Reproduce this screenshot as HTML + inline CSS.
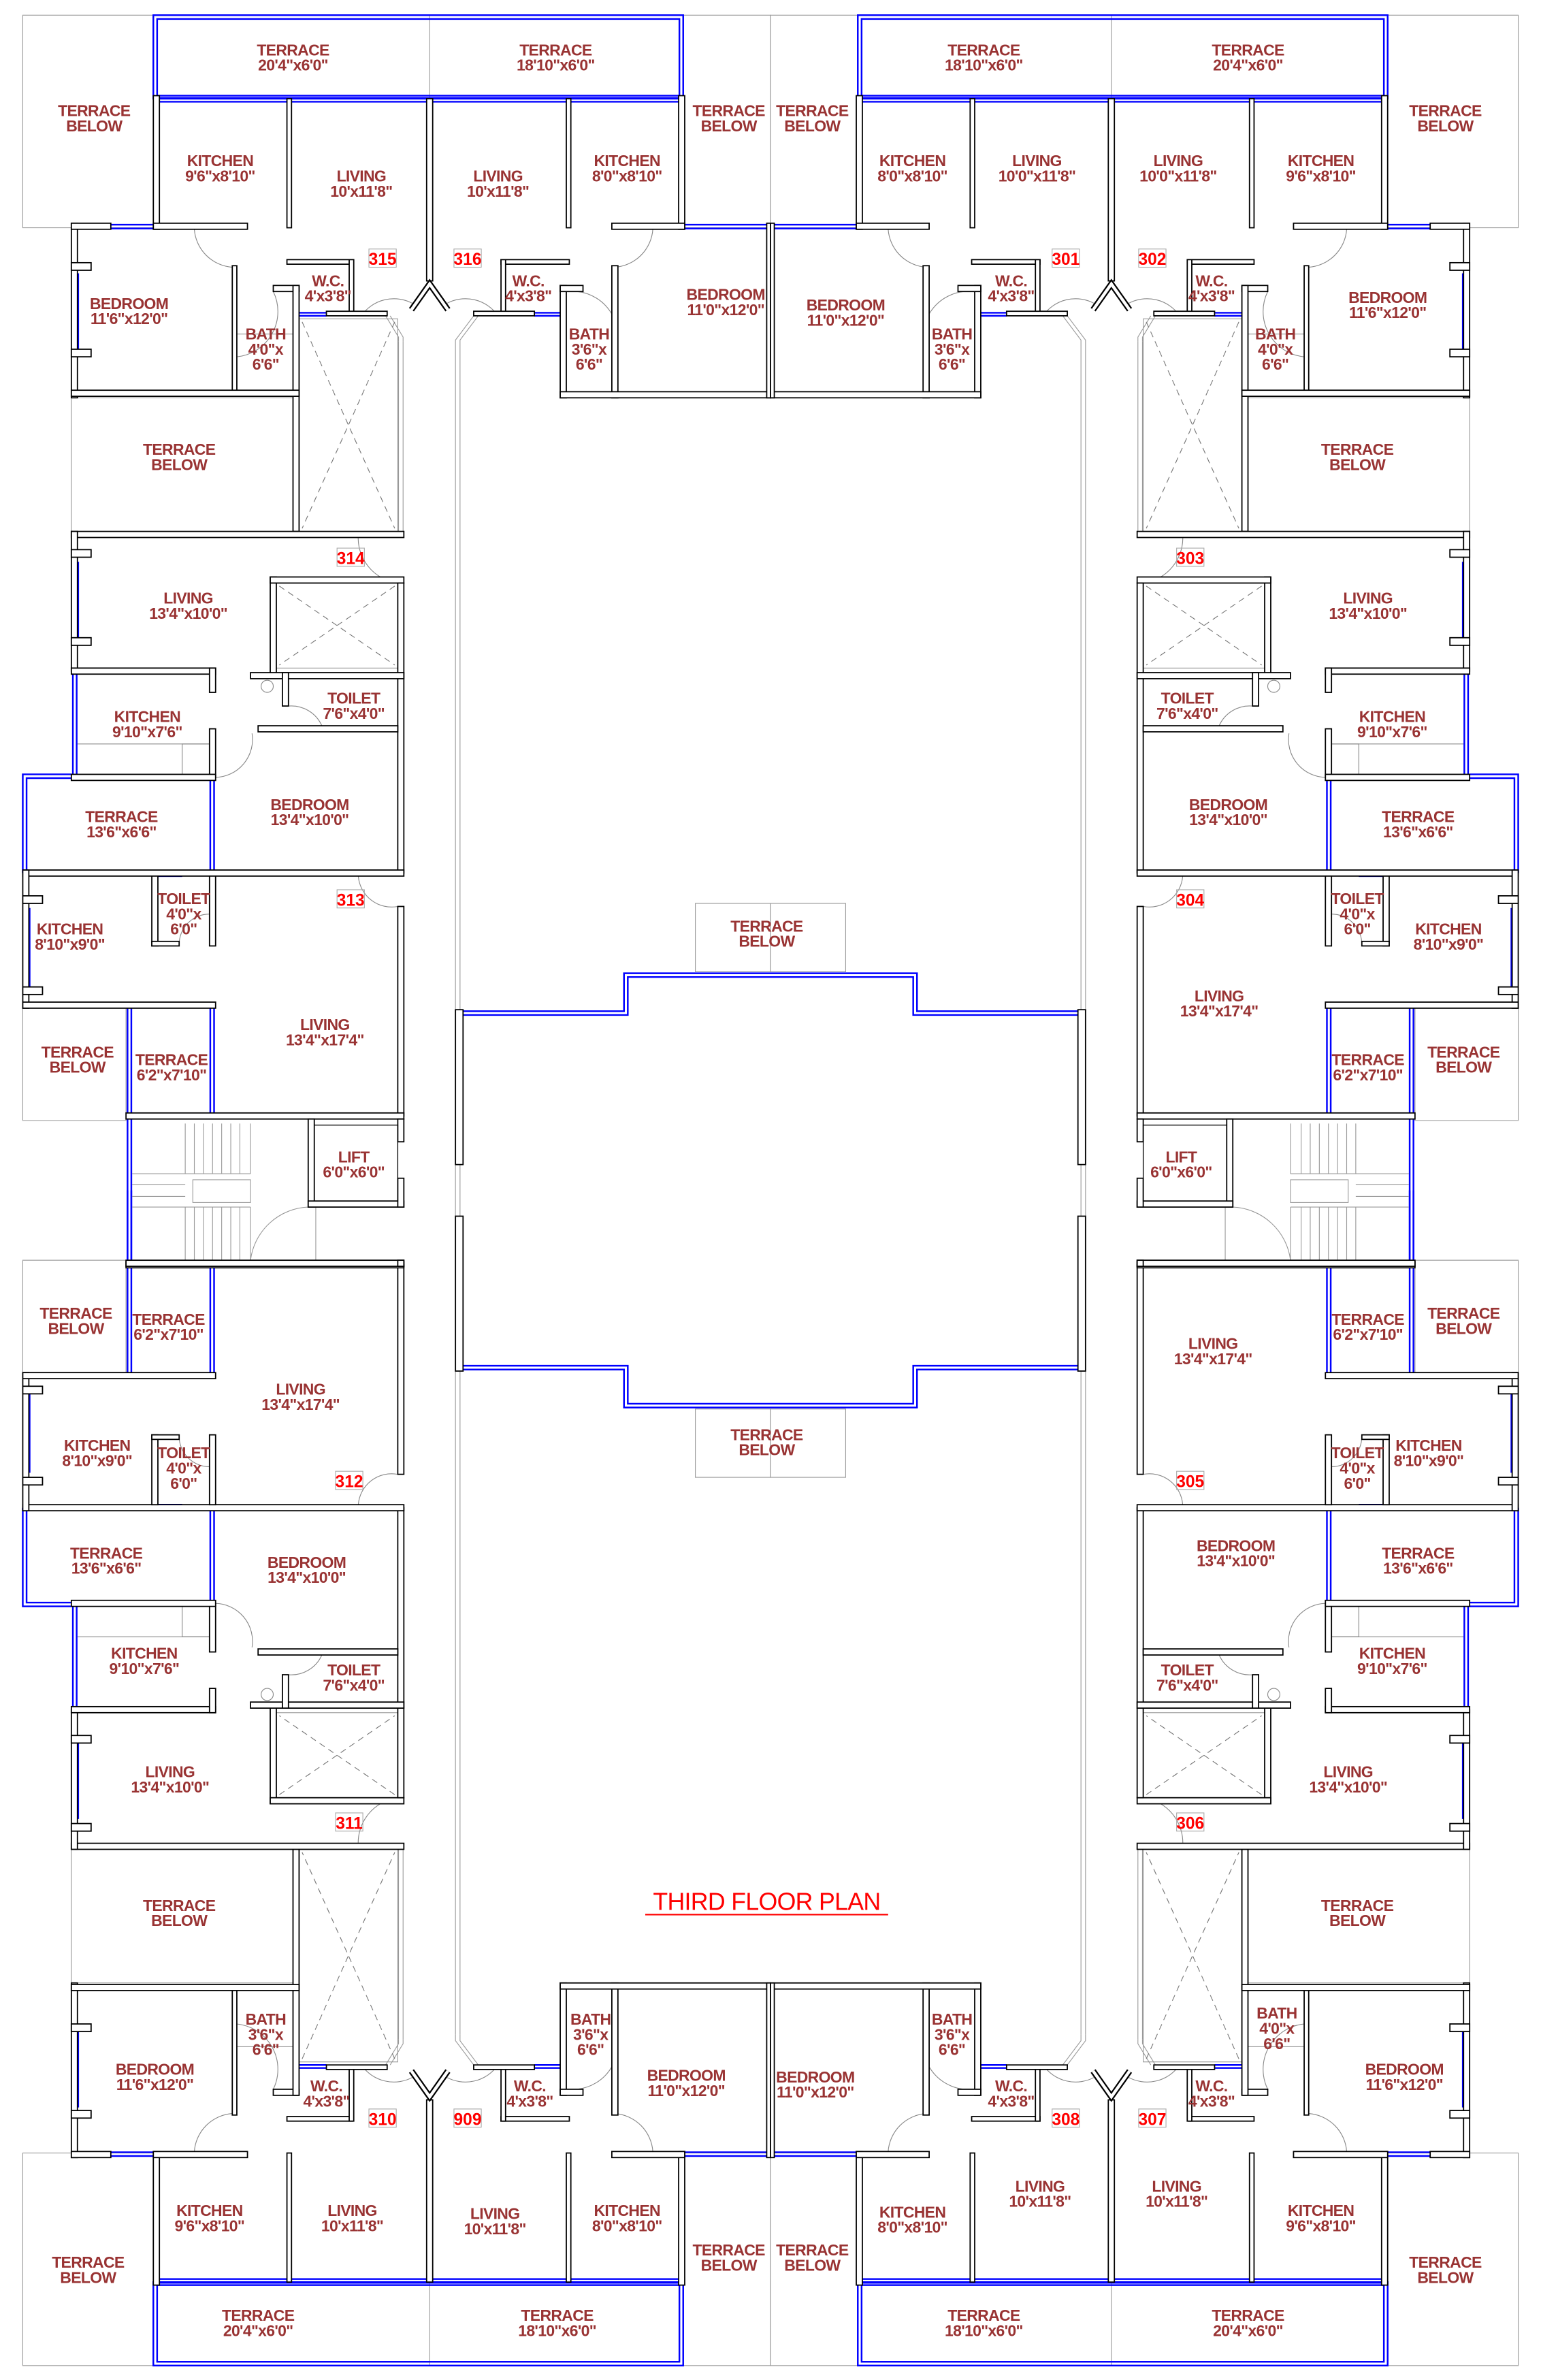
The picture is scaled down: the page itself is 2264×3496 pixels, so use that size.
<!DOCTYPE html>
<html><head><meta charset="utf-8"><style>
html,body{margin:0;padding:0;background:#fff}
svg{display:block}
.t{font-family:"Liberation Sans Narrow","Liberation Sans",sans-serif;font-weight:bold;font-size:10.3px;fill:#993333;text-anchor:middle;letter-spacing:-0.3px}
.n{font-family:"Liberation Sans Narrow","Liberation Sans",sans-serif;font-weight:bold;font-size:11px;fill:#ff0000;text-anchor:middle}
</style></head><body>
<svg width="2264" height="3496" viewBox="0 0 1015 1567.5" preserveAspectRatio="none" xmlns="http://www.w3.org/2000/svg">
<defs>
<g id="q">
 <g fill="none" stroke="#999" stroke-width=".5">
  <rect x="15" y="10" width="86" height="140"/>
  <rect x="450" y="10" width="57.5" height="140"/>
  <line x1="283" y1="10" x2="283" y2="65"/>
  <rect x="47" y="262" width="146" height="88"/>
  <rect x="15" y="662" width="68" height="76"/>
  <line x1="262.5" y1="225" x2="262.5" y2="350"/><line x1="265.5" y1="225" x2="265.5" y2="350"/>
  <polyline points="254,208 262.5,222 262.5,225"/><polyline points="257,208 265.5,222 265.5,225"/>
  <line x1="300" y1="228" x2="300" y2="784"/><line x1="303" y1="228" x2="303" y2="784"/>
  <polyline points="312,208 300,224 300,228"/><polyline points="315,208 303,224 303,228"/>
  <rect x="197" y="210" width="65" height="140"/>
  <rect x="182" y="384" width="80" height="56"/>
  <rect x="458" y="595" width="49.5" height="45"/>
  <line x1="156" y1="220" x2="193" y2="220"/>
  <line x1="51" y1="175" x2="51" y2="257"/>
 </g>
 <g fill="none" stroke="#777" stroke-width=".5" stroke-dasharray="4,3">
  <line x1="199" y1="212" x2="260" y2="348"/><line x1="260" y1="212" x2="199" y2="348"/>
  <line x1="184" y1="386" x2="260" y2="438"/><line x1="260" y1="386" x2="184" y2="438"/>
 </g>
 <g fill="none" stroke="#888" stroke-width=".5">
  <path d="M128,151 A27,27 0 0 0 153,176"/>
  <path d="M430,151 A27,27 0 0 1 405,176"/>
  <path d="M156,235 A30,30 0 0 0 180,192"/>
  <path d="M380,192 A30,30 0 0 1 404,235"/>
  <path d="M238,208 A26,26 0 0 1 272,200"/>
  <path d="M328,208 A26,26 0 0 0 294,200"/>
  <path d="M236,352 A30,30 0 0 0 262,384"/>
  <path d="M236,577 A22,22 0 0 0 262,597"/>
  <path d="M142,512 A25,25 0 0 0 166,483"/>
  <path d="M190,465 A22,22 0 0 1 212,478"/>
  <path d="M118,622 A20,20 0 0 1 138,602"/>
  <line x1="51" y1="490" x2="138" y2="490"/><rect x="120" y="490" width="18" height="20"/>
  <circle cx="176" cy="452" r="4"/>
 </g>
 <g fill="none" stroke="#0000ff" stroke-width="1.1">
  <rect x="101" y="10" width="349" height="55"/>
  <rect x="103.5" y="12.5" width="344" height="50.5"/>
  <line x1="103" y1="64.5" x2="448" y2="64.5"/><line x1="103" y1="67" x2="448" y2="67"/>
  <line x1="73" y1="148" x2="101" y2="148"/><line x1="73" y1="150.5" x2="101" y2="150.5"/>
  <line x1="450" y1="148" x2="507.5" y2="148"/><line x1="450" y1="150.5" x2="507.5" y2="150.5"/>
  <line x1="49" y1="180" x2="49" y2="230"/><line x1="51.5" y1="180" x2="51.5" y2="230"/>
  <line x1="194" y1="225" x2="194" y2="255"/><line x1="196" y1="225" x2="196" y2="255"/>
  <line x1="370" y1="228" x2="370" y2="255"/><line x1="372" y1="228" x2="372" y2="255"/>
  <line x1="197" y1="206" x2="215" y2="206"/><line x1="197" y1="208" x2="215" y2="208"/>
  <line x1="352" y1="206" x2="369" y2="206"/><line x1="352" y1="208" x2="369" y2="208"/>
  <line x1="425" y1="259" x2="450" y2="259"/><line x1="425" y1="261" x2="450" y2="261"/>
  <line x1="49" y1="370" x2="49" y2="420"/><line x1="51.5" y1="370" x2="51.5" y2="420"/>
  <line x1="48" y1="444" x2="48" y2="510"/><line x1="50.5" y1="444" x2="50.5" y2="510"/>
  <line x1="212" y1="444" x2="235" y2="444"/><line x1="212" y1="446.5" x2="235" y2="446.5"/>
  <polyline points="15,575 15,510 47,510"/><polyline points="17.5,575 17.5,512.5 47,512.5"/>
  <line x1="138.5" y1="514" x2="138.5" y2="573"/><line x1="141" y1="514" x2="141" y2="573"/>
  <line x1="104" y1="575" x2="120" y2="575"/><line x1="104" y1="577" x2="120" y2="577"/>
  <line x1="17" y1="598" x2="17" y2="650"/><line x1="19.5" y1="598" x2="19.5" y2="650"/>
  <line x1="84" y1="664" x2="84" y2="784"/><line x1="86.5" y1="664" x2="86.5" y2="784"/>
  <line x1="138.5" y1="664" x2="138.5" y2="733"/><line x1="141" y1="664" x2="141" y2="733"/>
  <polyline points="305,666 411,666 411,641 507.5,641"/>
  <polyline points="305,668.5 413.5,668.5 413.5,643.5 507.5,643.5"/>
 </g>
 <g fill="#fff" stroke="#000" stroke-width=".8">
  <rect x="101" y="63" width="4" height="88"/><rect x="101" y="147" width="62" height="4"/>
  <rect x="189" y="65" width="3" height="85"/><rect x="281" y="65" width="4" height="120"/>
  <rect x="373" y="65" width="3" height="85"/><rect x="447" y="63" width="4" height="88"/>
  <rect x="403" y="147" width="48" height="4"/>
  <rect x="47" y="147" width="4" height="115"/><rect x="47" y="147" width="26" height="4"/>
  <rect x="47" y="173" width="13" height="5"/><rect x="47" y="230" width="13" height="5"/>
  <rect x="153" y="175" width="3" height="85"/><rect x="180" y="188" width="17" height="4"/>
  <rect x="193" y="188" width="4" height="162"/><rect x="47" y="257" width="150" height="4"/>
  <rect x="189" y="171" width="43" height="3"/><rect x="230" y="171" width="3" height="36"/>
  <rect x="215" y="205" width="40" height="3"/>
  <rect x="330" y="171" width="45" height="3"/><rect x="330" y="171" width="3" height="36"/>
  <rect x="312" y="205" width="40" height="3"/>
  <rect x="369" y="188" width="4" height="74"/><rect x="369" y="188" width="15" height="4"/>
  <rect x="403" y="175" width="4" height="87"/><rect x="369" y="258" width="138.5" height="4"/>
  <rect x="505" y="147" width="2.5" height="115"/>
  <rect x="47" y="350" width="219" height="4"/><rect x="47" y="350" width="4" height="92"/>
  <rect x="47" y="362" width="13" height="5"/><rect x="47" y="420" width="13" height="5"/>
  <rect x="178" y="380" width="4" height="65"/><rect x="178" y="380" width="88" height="4"/>
  <rect x="262" y="384" width="4" height="191"/>
  <rect x="47" y="440" width="95" height="4"/><rect x="138" y="440" width="4" height="16"/>
  <rect x="165" y="443" width="101" height="4"/><rect x="186" y="443" width="4" height="22"/>
  <rect x="170" y="478" width="92" height="4"/><rect x="138" y="480" width="4" height="32"/>
  <rect x="47" y="510" width="95" height="4"/><rect x="15" y="573" width="251" height="4"/>
  <rect x="15" y="573" width="4" height="91"/><rect x="15" y="590" width="13" height="5"/><rect x="15" y="650" width="13" height="5"/>
  <rect x="100" y="577" width="4" height="46"/><rect x="100" y="620" width="18" height="3"/>
  <rect x="138" y="577" width="4" height="46"/><rect x="262" y="597" width="4" height="138"/>
  <rect x="15" y="660" width="127" height="4"/><rect x="83" y="733" width="183" height="4"/>
  <rect x="300" y="665" width="5" height="102"/>
 </g>
 <path d="M271,204 L283,187 L295,204" fill="none" stroke="#000" stroke-width="4"/>
 <path d="M271,204 L283,187 L295,204" fill="none" stroke="#fff" stroke-width="2"/>
</g>
<g id="s">
 <g fill="none" stroke="#0000ff" stroke-width="1.1">
  <line x1="84" y1="784" x2="84" y2="830"/><line x1="86.5" y1="784" x2="86.5" y2="830"/>
 </g>
 <g fill="none" stroke="#999" stroke-width=".5">
  <path d="M122,740V773M128,740V773M134,740V773M140,740V773M146,740V773M152,740V773M158,740V773M165,740V773"/>
  <path d="M122,795V830M128,795V830M134,795V830M140,795V830M146,795V830M152,795V830M158,795V830M165,795V830"/>
  <path d="M87,773H165M87,795H165M87,780H122M87,788H122"/>
  <rect x="127" y="777" width="38" height="15"/>
  <path d="M165,830 A40,40 0 0 1 203,795"/><line x1="208" y1="795" x2="208" y2="830"/>
  <line x1="15" y1="738" x2="83" y2="738" stroke="#aaa"/><line x1="15" y1="830" x2="83" y2="830" stroke="#aaa"/>
 </g>
 <g fill="#fff" stroke="#000" stroke-width=".8">
  <rect x="83" y="830" width="183" height="4"/>
  <rect x="203" y="737" width="4" height="58"/><rect x="203" y="791" width="63" height="4"/>
  <rect x="262" y="737" width="4" height="15"/><rect x="262" y="776" width="4" height="19"/>
  <rect x="262" y="830" width="4" height="4"/>
 </g>
 <rect x="207" y="741" width="55" height="50" fill="none" stroke="#000" stroke-width=".6"/>
</g>
</defs>
<rect width="1015" height="1567.5" fill="#fff"/>
<use href="#q"/>
<use href="#q" transform="matrix(-1,0,0,1,1015,0)"/>
<use href="#q" transform="matrix(1,0,0,-1,0,1568)"/>
<use href="#q" transform="matrix(-1,0,0,-1,1015,1568)"/>
<use href="#s"/>
<use href="#s" transform="matrix(-1,0,0,1,1015,0)"/>

<g class="t">
<text x="193" y="36.5">TERRACE</text><text x="193" y="46.5">20'4"x6'0"</text>
<text x="366" y="36.5">TERRACE</text><text x="366" y="46.5">18'10"x6'0"</text>
<text x="648" y="36.5">TERRACE</text><text x="648" y="46.5">18'10"x6'0"</text>
<text x="822" y="36.5">TERRACE</text><text x="822" y="46.5">20'4"x6'0"</text>
<text x="62" y="76.5">TERRACE</text><text x="62" y="86.5">BELOW</text>
<text x="480" y="76.5">TERRACE</text><text x="480" y="86.5">BELOW</text>
<text x="535" y="76.5">TERRACE</text><text x="535" y="86.5">BELOW</text>
<text x="952" y="76.5">TERRACE</text><text x="952" y="86.5">BELOW</text>
<text x="145" y="109.5">KITCHEN</text><text x="145" y="119.5">9'6"x8'10"</text>
<text x="238" y="119.5">LIVING</text><text x="238" y="129.5">10'x11'8"</text>
<text x="328" y="119.5">LIVING</text><text x="328" y="129.5">10'x11'8"</text>
<text x="413" y="109.5">KITCHEN</text><text x="413" y="119.5">8'0"x8'10"</text>
<text x="601" y="109.5">KITCHEN</text><text x="601" y="119.5">8'0"x8'10"</text>
<text x="683" y="109.5">LIVING</text><text x="683" y="119.5">10'0"x11'8"</text>
<text x="776" y="109.5">LIVING</text><text x="776" y="119.5">10'0"x11'8"</text>
<text x="870" y="109.5">KITCHEN</text><text x="870" y="119.5">9'6"x8'10"</text>
<text x="85" y="203.5">BEDROOM</text><text x="85" y="213.5">11'6"x12'0"</text>
<text x="216" y="188.5">W.C.</text><text x="216" y="198.5">4'x3'8"</text>
<text x="175" y="223.5">BATH</text><text x="175" y="233.5">4'0"x</text><text x="175" y="243.5">6'6"</text>
<text x="348" y="188.5">W.C.</text><text x="348" y="198.5">4'x3'8"</text>
<text x="388" y="223.5">BATH</text><text x="388" y="233.5">3'6"x</text><text x="388" y="243.5">6'6"</text>
<text x="478" y="197.5">BEDROOM</text><text x="478" y="207.5">11'0"x12'0"</text>
<text x="557" y="204.5">BEDROOM</text><text x="557" y="214.5">11'0"x12'0"</text>
<text x="627" y="223.5">BATH</text><text x="627" y="233.5">3'6"x</text><text x="627" y="243.5">6'6"</text>
<text x="666" y="188.5">W.C.</text><text x="666" y="198.5">4'x3'8"</text>
<text x="798" y="188.5">W.C.</text><text x="798" y="198.5">4'x3'8"</text>
<text x="840" y="223.5">BATH</text><text x="840" y="233.5">4'0"x</text><text x="840" y="243.5">6'6"</text>
<text x="914" y="199.5">BEDROOM</text><text x="914" y="209.5">11'6"x12'0"</text>
<text x="118" y="299.5">TERRACE</text><text x="118" y="309.5">BELOW</text>
<text x="894" y="299.5">TERRACE</text><text x="894" y="309.5">BELOW</text>
<text x="124" y="397.5">LIVING</text><text x="124" y="407.5">13'4"x10'0"</text>
<text x="901" y="397.5">LIVING</text><text x="901" y="407.5">13'4"x10'0"</text>
<text x="233" y="463.5">TOILET</text><text x="233" y="473.5">7'6"x4'0"</text>
<text x="782" y="463.5">TOILET</text><text x="782" y="473.5">7'6"x4'0"</text>
<text x="97" y="475.5">KITCHEN</text><text x="97" y="485.5">9'10"x7'6"</text>
<text x="917" y="475.5">KITCHEN</text><text x="917" y="485.5">9'10"x7'6"</text>
<text x="204" y="533.5">BEDROOM</text><text x="204" y="543.5">13'4"x10'0"</text>
<text x="809" y="533.5">BEDROOM</text><text x="809" y="543.5">13'4"x10'0"</text>
<text x="80" y="541.5">TERRACE</text><text x="80" y="551.5">13'6"x6'6"</text>
<text x="934" y="541.5">TERRACE</text><text x="934" y="551.5">13'6"x6'6"</text>
<text x="121" y="595.5">TOILET</text><text x="121" y="605.5">4'0"x</text><text x="121" y="615.5">6'0"</text>
<text x="894" y="595.5">TOILET</text><text x="894" y="605.5">4'0"x</text><text x="894" y="615.5">6'0"</text>
<text x="46" y="615.5">KITCHEN</text><text x="46" y="625.5">8'10"x9'0"</text>
<text x="954" y="615.5">KITCHEN</text><text x="954" y="625.5">8'10"x9'0"</text>
<text x="505" y="613.5">TERRACE</text><text x="505" y="623.5">BELOW</text>
<text x="214" y="678.5">LIVING</text><text x="214" y="688.5">13'4"x17'4"</text>
<text x="803" y="659.5">LIVING</text><text x="803" y="669.5">13'4"x17'4"</text>
<text x="51" y="696.5">TERRACE</text><text x="51" y="706.5">BELOW</text>
<text x="964" y="696.5">TERRACE</text><text x="964" y="706.5">BELOW</text>
<text x="113" y="701.5">TERRACE</text><text x="113" y="711.5">6'2"x7'10"</text>
<text x="901" y="701.5">TERRACE</text><text x="901" y="711.5">6'2"x7'10"</text>
<text x="233" y="765.5">LIFT</text><text x="233" y="775.5">6'0"x6'0"</text>
<text x="778" y="765.5">LIFT</text><text x="778" y="775.5">6'0"x6'0"</text>
<text x="50" y="868.5">TERRACE</text><text x="50" y="878.5">BELOW</text>
<text x="964" y="868.5">TERRACE</text><text x="964" y="878.5">BELOW</text>
<text x="111" y="872.5">TERRACE</text><text x="111" y="882.5">6'2"x7'10"</text>
<text x="901" y="872.5">TERRACE</text><text x="901" y="882.5">6'2"x7'10"</text>
<text x="198" y="918.5">LIVING</text><text x="198" y="928.5">13'4"x17'4"</text>
<text x="799" y="888.5">LIVING</text><text x="799" y="898.5">13'4"x17'4"</text>
<text x="505" y="948.5">TERRACE</text><text x="505" y="958.5">BELOW</text>
<text x="64" y="955.5">KITCHEN</text><text x="64" y="965.5">8'10"x9'0"</text>
<text x="941" y="955.5">KITCHEN</text><text x="941" y="965.5">8'10"x9'0"</text>
<text x="121" y="960.5">TOILET</text><text x="121" y="970.5">4'0"x</text><text x="121" y="980.5">6'0"</text>
<text x="894" y="960.5">TOILET</text><text x="894" y="970.5">4'0"x</text><text x="894" y="980.5">6'0"</text>
<text x="70" y="1026.5">TERRACE</text><text x="70" y="1036.5">13'6"x6'6"</text>
<text x="934" y="1026.5">TERRACE</text><text x="934" y="1036.5">13'6"x6'6"</text>
<text x="202" y="1032.5">BEDROOM</text><text x="202" y="1042.5">13'4"x10'0"</text>
<text x="814" y="1021.5">BEDROOM</text><text x="814" y="1031.5">13'4"x10'0"</text>
<text x="95" y="1092.5">KITCHEN</text><text x="95" y="1102.5">9'10"x7'6"</text>
<text x="917" y="1092.5">KITCHEN</text><text x="917" y="1102.5">9'10"x7'6"</text>
<text x="233" y="1103.5">TOILET</text><text x="233" y="1113.5">7'6"x4'0"</text>
<text x="782" y="1103.5">TOILET</text><text x="782" y="1113.5">7'6"x4'0"</text>
<text x="112" y="1170.5">LIVING</text><text x="112" y="1180.5">13'4"x10'0"</text>
<text x="888" y="1170.5">LIVING</text><text x="888" y="1180.5">13'4"x10'0"</text>
<text x="118" y="1258.5">TERRACE</text><text x="118" y="1268.5">BELOW</text>
<text x="894" y="1258.5">TERRACE</text><text x="894" y="1268.5">BELOW</text>
<text x="175" y="1333.5">BATH</text><text x="175" y="1343.5">3'6"x</text><text x="175" y="1353.5">6'6"</text>
<text x="389" y="1333.5">BATH</text><text x="389" y="1343.5">3'6"x</text><text x="389" y="1353.5">6'6"</text>
<text x="627" y="1333.5">BATH</text><text x="627" y="1343.5">3'6"x</text><text x="627" y="1353.5">6'6"</text>
<text x="841" y="1329.5">BATH</text><text x="841" y="1339.5">4'0"x</text><text x="841" y="1349.5">6'6"</text>
<text x="102" y="1366.5">BEDROOM</text><text x="102" y="1376.5">11'6"x12'0"</text>
<text x="452" y="1370.5">BEDROOM</text><text x="452" y="1380.5">11'0"x12'0"</text>
<text x="537" y="1371.5">BEDROOM</text><text x="537" y="1381.5">11'0"x12'0"</text>
<text x="925" y="1366.5">BEDROOM</text><text x="925" y="1376.5">11'6"x12'0"</text>
<text x="215" y="1377.5">W.C.</text><text x="215" y="1387.5">4'x3'8"</text>
<text x="349" y="1377.5">W.C.</text><text x="349" y="1387.5">4'x3'8"</text>
<text x="666" y="1377.5">W.C.</text><text x="666" y="1387.5">4'x3'8"</text>
<text x="798" y="1377.5">W.C.</text><text x="798" y="1387.5">4'x3'8"</text>
<text x="138" y="1459.5">KITCHEN</text><text x="138" y="1469.5">9'6"x8'10"</text>
<text x="232" y="1459.5">LIVING</text><text x="232" y="1469.5">10'x11'8"</text>
<text x="326" y="1461.5">LIVING</text><text x="326" y="1471.5">10'x11'8"</text>
<text x="413" y="1459.5">KITCHEN</text><text x="413" y="1469.5">8'0"x8'10"</text>
<text x="601" y="1460.5">KITCHEN</text><text x="601" y="1470.5">8'0"x8'10"</text>
<text x="685" y="1443.5">LIVING</text><text x="685" y="1453.5">10'x11'8"</text>
<text x="775" y="1443.5">LIVING</text><text x="775" y="1453.5">10'x11'8"</text>
<text x="870" y="1459.5">KITCHEN</text><text x="870" y="1469.5">9'6"x8'10"</text>
<text x="58" y="1493.5">TERRACE</text><text x="58" y="1503.5">BELOW</text>
<text x="480" y="1485.5">TERRACE</text><text x="480" y="1495.5">BELOW</text>
<text x="535" y="1485.5">TERRACE</text><text x="535" y="1495.5">BELOW</text>
<text x="952" y="1493.5">TERRACE</text><text x="952" y="1503.5">BELOW</text>
<text x="170" y="1528.5">TERRACE</text><text x="170" y="1538.5">20'4"x6'0"</text>
<text x="367" y="1528.5">TERRACE</text><text x="367" y="1538.5">18'10"x6'0"</text>
<text x="648" y="1528.5">TERRACE</text><text x="648" y="1538.5">18'10"x6'0"</text>
<text x="822" y="1528.5">TERRACE</text><text x="822" y="1538.5">20'4"x6'0"</text>
</g>

<g fill="none" stroke="#aaa" stroke-width=".5">
<rect x="243" y="164" width="18" height="12"/><rect x="299" y="164" width="18" height="12"/>
<rect x="693" y="164" width="18" height="12"/><rect x="750" y="164" width="18" height="12"/>
<rect x="222" y="361" width="18" height="12"/><rect x="775" y="361" width="18" height="12"/>
<rect x="222" y="586" width="18" height="12"/><rect x="775" y="586" width="18" height="12"/>
<rect x="221" y="969" width="18" height="12"/><rect x="775" y="969" width="18" height="12"/>
<rect x="221" y="1194" width="18" height="12"/><rect x="775" y="1194" width="18" height="12"/>
<rect x="243" y="1389" width="18" height="12"/><rect x="299" y="1389" width="18" height="12"/>
<rect x="693" y="1389" width="18" height="12"/><rect x="750" y="1389" width="18" height="12"/>
</g>
<g class="n">
<text x="252" y="174.5">315</text><text x="308" y="174.5">316</text>
<text x="702" y="174.5">301</text><text x="759" y="174.5">302</text>
<text x="231" y="371.5">314</text><text x="784" y="371.5">303</text>
<text x="231" y="596.5">313</text><text x="784" y="596.5">304</text>
<text x="230" y="979.5">312</text><text x="784" y="979.5">305</text>
<text x="230" y="1204.5">311</text><text x="784" y="1204.5">306</text>
<text x="252" y="1399.5">310</text><text x="308" y="1399.5">909</text>
<text x="702" y="1399.5">308</text><text x="759" y="1399.5">307</text>
</g>
<text x="505" y="1258" style="font-family:'Liberation Sans',sans-serif;font-size:16px;fill:#ff0000;text-anchor:middle;letter-spacing:-0.3px">THIRD FLOOR PLAN</text>
<line x1="425" y1="1261" x2="585" y2="1261" stroke="#ff0000" stroke-width="1"/>
</svg>
</body></html>
